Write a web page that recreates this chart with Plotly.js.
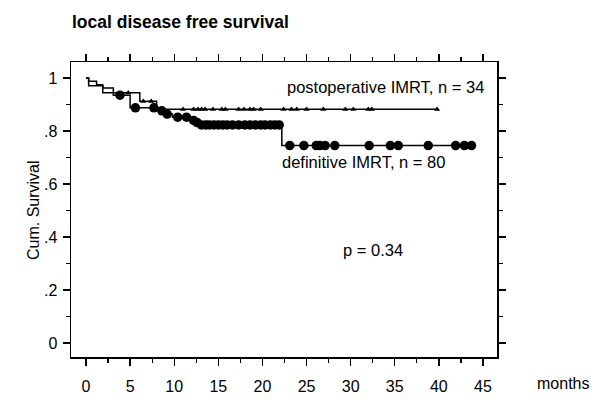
<!DOCTYPE html>
<html>
<head>
<meta charset="utf-8">
<script src="https://cdn.plot.ly/plotly-3.0.1.min.js"></script>
<style>html,body{margin:0;padding:0;background:#fff;}#chart{width:600px;height:403px;}</style>
</head>
<body>
<div id="chart"></div>
<script>
// Postoperative IMRT (n = 34): step curve
var postTime = [0, 0.3, 1.9, 6.1, 8.0, 39.8];
var postSurv = [1.0, 0.971, 0.944, 0.912, 0.882, 0.882];
// Postoperative censored (triangles)
var postCensTime = [4.8, 6.5, 7.4, 11.0, 12.2, 12.7, 13.1, 13.5, 14.4, 15.4, 15.8, 17.3, 17.9, 18.6, 19.0, 19.8, 22.4, 23.3, 23.9, 25.0, 26.9, 29.4, 30.3, 32.0, 32.4, 39.8];
var postCensSurv = [0.944, 0.912, 0.912, 0.882, 0.882, 0.882, 0.882, 0.882, 0.882, 0.882, 0.882, 0.882, 0.882, 0.882, 0.882, 0.882, 0.882, 0.882, 0.882, 0.882, 0.882, 0.882, 0.882, 0.882, 0.882, 0.882];

// Definitive IMRT (n = 80): step curve
var defTime = [0, 0.3, 1.2, 1.9, 3.1, 5.0, 8.2, 9.0, 9.8, 12.0, 12.4, 12.8, 22.2, 43.7];
var defSurv = [1.0, 0.9875, 0.975, 0.9625, 0.935, 0.8875, 0.876, 0.864, 0.852, 0.840, 0.832, 0.823, 0.745, 0.745];
// Definitive censored (circles)
var defCensTime = [3.85, 5.6, 7.7, 8.6, 9.2, 10.4, 11.4, 12.2, 12.6, 13.1, 13.6, 14.0, 14.5, 15.0, 15.5, 16.0, 16.6, 17.3, 18.0, 18.6, 19.2, 19.8, 20.3, 20.9, 21.4, 21.9, 23.1, 24.7, 26.1, 26.5, 27.1, 28.2, 32.1, 34.5, 35.4, 38.8, 41.9, 42.9, 43.7];
var defCensSurv = [0.935, 0.8875, 0.8875, 0.876, 0.864, 0.852, 0.852, 0.840, 0.832, 0.823, 0.823, 0.823, 0.823, 0.823, 0.823, 0.823, 0.823, 0.823, 0.823, 0.823, 0.823, 0.823, 0.823, 0.823, 0.823, 0.823, 0.745, 0.745, 0.745, 0.745, 0.745, 0.745, 0.745, 0.745, 0.745, 0.745, 0.745, 0.745, 0.745];

var xTicks = [0, 5, 10, 15, 20, 25, 30, 35, 40, 45];
var yTickVals = [0, 0.2, 0.4, 0.6, 0.8, 1];
var yTickText = ["0", ".2", ".4", ".6", ".8", "1"];

var FONT = "Liberation Sans, Arial, sans-serif";

var traces = [
  {x: postTime, y: postSurv, mode: "lines", line: {shape: "hv", color: "#000", width: 1.5}, showlegend: false, hoverinfo: "skip"},
  {x: defTime, y: defSurv, mode: "lines", line: {shape: "hv", color: "#000", width: 1.5}, showlegend: false, hoverinfo: "skip"},
  {x: postCensTime, y: postCensSurv, mode: "markers", marker: {symbol: "triangle-up", size: 5.5, color: "#000"}, showlegend: false, cliponaxis: false},
  {x: defCensTime, y: defCensSurv, mode: "markers", marker: {symbol: "circle", size: 9.5, color: "#000"}, showlegend: false, cliponaxis: false}
];

var layout = {
  width: 600, height: 403,
  margin: {l: 71, r: 103, t: 62, b: 46},
  paper_bgcolor: "#fff", plot_bgcolor: "#fff",
  font: {family: FONT, size: 16, color: "#000"},
  title: {text: "<b>local disease free survival</b>", font: {family: FONT, size: 17.5, color: "#000"},
          xref: "container", x: 72/600, xanchor: "left", yref: "container", y: 1 - 22/403, yanchor: "middle"},
  xaxis: {
    range: [-1.70, 46.59], tickvals: xTicks, ticks: "outside", ticklen: 7, tickwidth: 1.3, tickcolor: "#000",
    showline: true, linecolor: "#000", linewidth: 1.5, mirror: "allticks", showgrid: false, zeroline: false,
    tickfont: {family: FONT, size: 16}, ticklabelstandoff: 7,
    minor: {dtick: 2.5, tick0: 0, ticks: "outside", ticklen: 4, tickwidth: 1.3, tickcolor: "#000", showgrid: false}
  },
  yaxis: {
    range: [-0.0528, 1.0604], tickvals: yTickVals, ticktext: yTickText, ticks: "outside", ticklen: 7, tickwidth: 1.3, tickcolor: "#000",
    showline: true, linecolor: "#000", linewidth: 1.5, mirror: "allticks", showgrid: false, zeroline: false,
    tickfont: {family: FONT, size: 16}, ticklabelstandoff: 2,
    minor: {dtick: 0.1, tick0: 0, ticks: "outside", ticklen: 4, tickwidth: 1.3, tickcolor: "#000", showgrid: false}
  },
  annotations: [
    {text: "postoperative IMRT, n = 34", x: 33.98, y: 0.966, xref: "x", yref: "y", showarrow: false, font: {family: FONT, size: 16.5}, xanchor: "center", yanchor: "middle"},
    {text: "definitive IMRT, n = 80", x: 31.46, y: 0.683, xref: "x", yref: "y", showarrow: false, font: {family: FONT, size: 16.5}, xanchor: "center", yanchor: "middle"},
    {text: "p = 0.34", x: 32.5, y: 0.351, xref: "x", yref: "y", showarrow: false, font: {family: FONT, size: 16.5}, xanchor: "center", yanchor: "middle"},
    {text: "months", x: (563-71)/426, y: (357-383)/295, xref: "paper", yref: "paper", showarrow: false, font: {family: FONT, size: 16}, xanchor: "center", yanchor: "middle"},
    {text: "Cum. Survival", x: (33-71)/426, y: (357-210)/295, xref: "paper", yref: "paper", showarrow: false, textangle: -90, font: {family: FONT, size: 16}, xanchor: "center", yanchor: "middle"}
  ]
};

Plotly.newPlot("chart", traces, layout, {displayModeBar: false, staticPlot: true});
</script>
</body>
</html>
